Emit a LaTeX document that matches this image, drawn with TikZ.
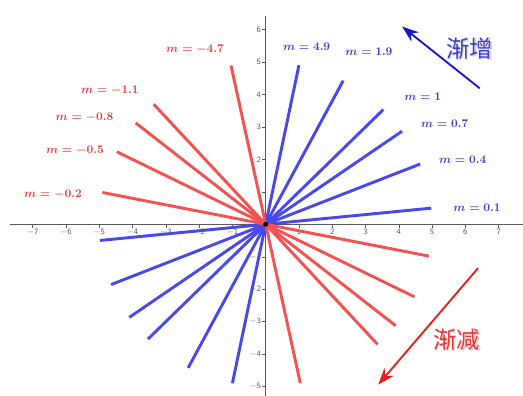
\documentclass[tikz,border=0pt]{standalone}
\usepackage{amsmath}
\usepackage{fontspec}
\newfontfamily\cjkfont{Noto Sans CJK SC}
\usetikzlibrary{arrows.meta}

\definecolor{axisgray}{RGB}{90,90,90}
\definecolor{posblue}{RGB}{72,72,235}
\definecolor{negred}{RGB}{242,82,82}
\definecolor{poslbl}{RGB}{60,60,215}
\definecolor{neglbl}{RGB}{228,62,62}
\definecolor{incblue}{RGB}{25,25,200}
\definecolor{decred}{RGB}{232,30,30}

\tikzset{
  axisline/.style={draw=axisgray, line width=0.6pt},
  tickmark/.style={draw=axisgray, line width=0.4pt},
  ticklabel/.style={text=axisgray, font=\sffamily\scriptsize, inner sep=1pt},
  posline/.style={draw=posblue, line width=2.5pt},
  negline/.style={draw=negred, line width=2.5pt},
  poslabel/.style={text=poslbl, font=\boldmath},
  neglabel/.style={text=neglbl, font=\boldmath},
  trendarrow/.style={line width=1.6pt, -{Stealth[length=5mm,width=3.6mm]}},
  trendtext/.style={font=\cjkfont\fontsize{20}{24}\selectfont},
  trendshadow/.style={trendtext, text=black!18, xshift=1.2pt, yshift=-1.4pt}
}

\begin{document}
\begin{tikzpicture}[x=1cm, y=0.975cm]
  \useasboundingbox (-7.98,-5.28) rectangle (7.73,6.91);

  % axes
  \coordinate (xl) at (-7.68,0);
  \coordinate (xr) at (7.73,0);
  \coordinate (yb) at (0,-5.28);
  \coordinate (yt) at (0,6.41);
  \draw [axisline] (xl) -- (xr);
  \draw [axisline] (yb) -- (yt);
  \foreach \k in {-7,...,-1,1,2,...,7} {
    \draw [tickmark] (\k,0) -- (\k,-0.1);
    \node [ticklabel, anchor=north] (tx\k) at (\k,-0.1) {\ifnum\k<0 $-$\fi\the\numexpr\ifnum\k<0 -\fi\k\relax};
  }
  \foreach \k in {-5,...,-1,1,2,...,6} {
    \draw [tickmark] (0,\k) -- (-0.1,\k);
    \node [ticklabel, anchor=east] (ty\k) at (-0.1,\k) {\ifnum\k<0 $-$\fi\the\numexpr\ifnum\k<0 -\fi\k\relax};
  }
  \node [ticklabel, anchor=north east] (t0) at (-0.03,-0.08) {0};

  % lines y = m x
  \foreach \m [count=\i] in {0.1,0.4,0.7,1,1.9,4.9} {
    \pgfmathsetmacro\ang{atan(\m)}
    \coordinate (pu\i) at (\ang:5);
    \coordinate (pd\i) at (\ang+180:5);
    \draw [posline] (pd\i) -- (pu\i);
  }
  \foreach \m [count=\i] in {-0.2,-0.5,-0.8,-1.1,-4.7} {
    \pgfmathsetmacro\ang{atan(\m)}
    \coordinate (nu\i) at (\ang+180:5);
    \coordinate (nd\i) at (\ang:5);
    \draw [negline] (nd\i) -- (nu\i);
  }
  \node [circle, fill=black, inner sep=1.5pt] (O) at (0,0) {};

  % labels
  \node [poslabel] (lp1) at (6.35,0.52) {$m=0.1$};
  \node [poslabel] (lp2) at (5.92,1.98) {$m=0.4$};
  \node [poslabel] (lp3) at (5.38,3.11) {$m=0.7$};
  \node [poslabel] (lp4) at (4.72,3.93) {$m=1$};
  \node [poslabel] (lp5) at (3.10,5.32) {$m=1.9$};
  \node [poslabel] (lp6) at (1.23,5.47) {$m=4.9$};
  \node [neglabel] (ln1) at (-6.39,0.93) {$m=-0.2$};
  \node [neglabel] (ln2) at (-5.73,2.28) {$m=-0.5$};
  \node [neglabel] (ln3) at (-5.44,3.29) {$m=-0.8$};
  \node [neglabel] (ln4) at (-4.68,4.11) {$m=-1.1$};
  \node [neglabel] (ln5) at (-2.12,5.40) {$m=-4.7$};

  % trend arrows
  \coordinate (incA) at (6.43,4.19);
  \coordinate (incB) at (4.10,6.09);
  \draw [trendarrow, incblue] (incA) -- (incB);
  \node [trendshadow] (incS) at (6.13,5.42) {渐增};
  \node [trendtext, text=incblue!85!white] (incT) at (6.13,5.42) {渐增};

  \coordinate (decA) at (6.38,-1.35);
  \coordinate (decB) at (3.38,-4.94);
  \draw [trendarrow, decred] (decA) -- (decB);
  \node [trendshadow] (decS) at (5.74,-3.55) {渐减};
  \node [trendtext, text=decred!90!white] (decT) at (5.74,-3.55) {渐减};
\end{tikzpicture}
\end{document}
